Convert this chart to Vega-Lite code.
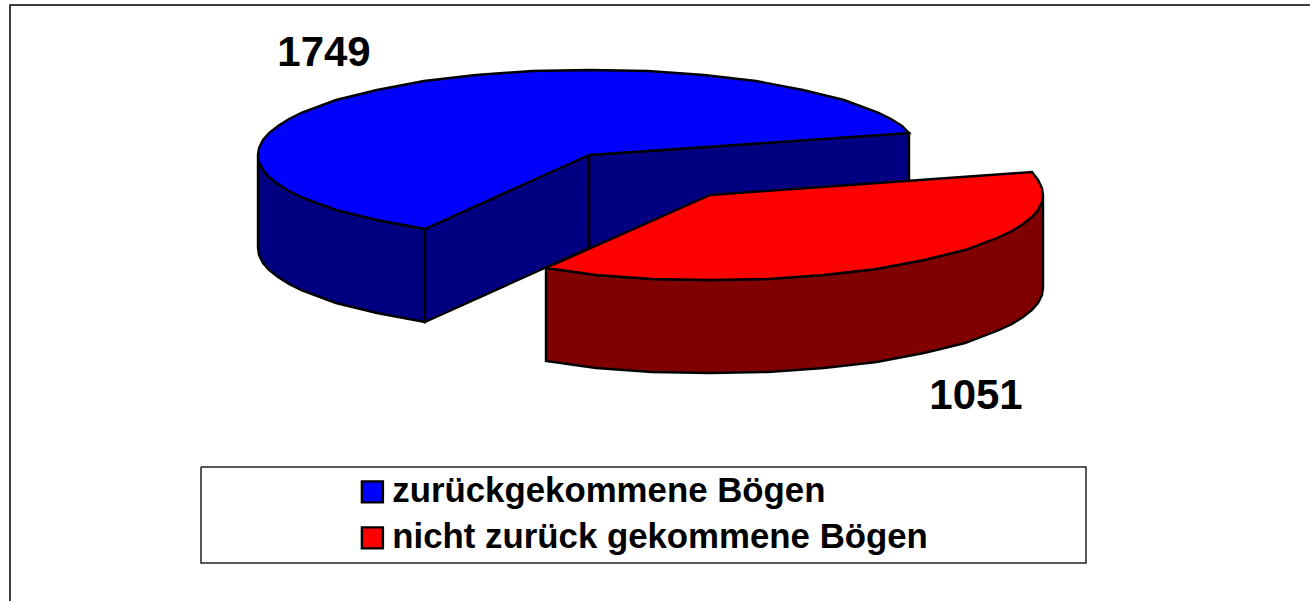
{"$schema":"https://vega.github.io/schema/vega-lite/v6.json","width":1310,"height":601,"padding":0,"autosize":{"type":"none"},"background":"white","view":{"stroke":null},
"datasets":{
"werte":[{"Kategorie":"zurückgekommene Bögen","Wert":1749,"x":324,"y":65.5},{"Kategorie":"nicht zurück gekommene Bögen","Wert":1051,"x":976,"y":408.5}],
"umriss":[
{"teil":"rahmen","n":1,"x":10,"y":601},{"teil":"rahmen","n":2,"x":10,"y":5},{"teil":"rahmen","n":3,"x":1310,"y":5},
{"teil":"legende","n":1,"x":201,"y":467},{"teil":"legende","n":2,"x":1086,"y":467},{"teil":"legende","n":3,"x":1086,"y":563},{"teil":"legende","n":4,"x":201,"y":563},{"teil":"legende","n":5,"x":201,"y":467},
{"teil":"blau_seite","n":1,"x":258,"y":155},{"teil":"blau_seite","n":1.5,"x":259,"y":162},{"teil":"blau_seite","n":2,"x":263,"y":170},{"teil":"blau_seite","n":2.5,"x":269,"y":177},{"teil":"blau_seite","n":3,"x":278,"y":184},{"teil":"blau_seite","n":3.5,"x":289,"y":191},{"teil":"blau_seite","n":4,"x":302,"y":197.5},{"teil":"blau_seite","n":5,"x":336,"y":210},{"teil":"blau_seite","n":6,"x":377,"y":220},{"teil":"blau_seite","n":7,"x":425,"y":229},{"teil":"blau_seite","n":8,"x":425,"y":322},{"teil":"blau_seite","n":9,"x":377,"y":313},{"teil":"blau_seite","n":10,"x":336,"y":303},{"teil":"blau_seite","n":11,"x":302,"y":290.5},{"teil":"blau_seite","n":11.5,"x":289,"y":284},{"teil":"blau_seite","n":12,"x":278,"y":277},{"teil":"blau_seite","n":12.5,"x":269,"y":270},{"teil":"blau_seite","n":13,"x":263,"y":263},{"teil":"blau_seite","n":13.5,"x":259,"y":255},{"teil":"blau_seite","n":14,"x":258,"y":248},{"teil":"blau_seite","n":15,"x":258,"y":155},
{"teil":"blau_rechts","n":1,"x":589,"y":155},{"teil":"blau_rechts","n":2,"x":909,"y":133},{"teil":"blau_rechts","n":3,"x":909,"y":226},{"teil":"blau_rechts","n":4,"x":589,"y":248},{"teil":"blau_rechts","n":5,"x":589,"y":155},
{"teil":"blau_links","n":1,"x":425,"y":229},{"teil":"blau_links","n":2,"x":589,"y":155},{"teil":"blau_links","n":3,"x":589,"y":248},{"teil":"blau_links","n":4,"x":425,"y":322},{"teil":"blau_links","n":5,"x":425,"y":229},
{"teil":"blau_oben","n":1,"x":589,"y":155},{"teil":"blau_oben","n":2,"x":909,"y":133},{"teil":"blau_oben","n":3,"x":902,"y":126},{"teil":"blau_oben","n":4,"x":891,"y":119},{"teil":"blau_oben","n":5,"x":878,"y":112.5},{"teil":"blau_oben","n":6,"x":844,"y":100},{"teil":"blau_oben","n":7,"x":803,"y":90},{"teil":"blau_oben","n":8,"x":756,"y":81},{"teil":"blau_oben","n":9,"x":704,"y":75},{"teil":"blau_oben","n":10,"x":648,"y":71},{"teil":"blau_oben","n":11,"x":590,"y":70},{"teil":"blau_oben","n":12,"x":532,"y":71},{"teil":"blau_oben","n":13,"x":476,"y":75},{"teil":"blau_oben","n":14,"x":424,"y":81},{"teil":"blau_oben","n":15,"x":377,"y":90},{"teil":"blau_oben","n":16,"x":336,"y":100},{"teil":"blau_oben","n":17,"x":302,"y":112.5},{"teil":"blau_oben","n":17.5,"x":289,"y":119},{"teil":"blau_oben","n":18,"x":278,"y":126},{"teil":"blau_oben","n":18.5,"x":269,"y":133},{"teil":"blau_oben","n":19,"x":263,"y":140},{"teil":"blau_oben","n":19.5,"x":259,"y":148},{"teil":"blau_oben","n":20,"x":258,"y":155},{"teil":"blau_oben","n":20.5,"x":259,"y":162},{"teil":"blau_oben","n":21,"x":263,"y":170},{"teil":"blau_oben","n":21.5,"x":269,"y":177},{"teil":"blau_oben","n":22,"x":278,"y":184},{"teil":"blau_oben","n":22.5,"x":289,"y":191},{"teil":"blau_oben","n":23,"x":302,"y":197.5},{"teil":"blau_oben","n":24,"x":336,"y":210},{"teil":"blau_oben","n":25,"x":377,"y":220},{"teil":"blau_oben","n":26,"x":425,"y":229},{"teil":"blau_oben","n":27,"x":589,"y":155},
{"teil":"rot_seite","n":1,"x":1043,"y":195},{"teil":"rot_seite","n":2,"x":1042,"y":202},{"teil":"rot_seite","n":3,"x":1038,"y":210},{"teil":"rot_seite","n":3.5,"x":1032,"y":217},{"teil":"rot_seite","n":4,"x":1023,"y":224},{"teil":"rot_seite","n":4.5,"x":1012,"y":231},{"teil":"rot_seite","n":5,"x":998,"y":237.5},{"teil":"rot_seite","n":6,"x":965,"y":250},{"teil":"rot_seite","n":7,"x":924,"y":260},{"teil":"rot_seite","n":8,"x":876.5,"y":269},{"teil":"rot_seite","n":9,"x":824,"y":275},{"teil":"rot_seite","n":10,"x":768,"y":279},{"teil":"rot_seite","n":11,"x":710,"y":280},{"teil":"rot_seite","n":12,"x":652,"y":279},{"teil":"rot_seite","n":13,"x":596,"y":275},{"teil":"rot_seite","n":14,"x":546,"y":268},{"teil":"rot_seite","n":15,"x":546,"y":361},{"teil":"rot_seite","n":16,"x":596,"y":368},{"teil":"rot_seite","n":17,"x":652,"y":372},{"teil":"rot_seite","n":18,"x":710,"y":373},{"teil":"rot_seite","n":19,"x":768,"y":372},{"teil":"rot_seite","n":20,"x":824,"y":368},{"teil":"rot_seite","n":21,"x":876.5,"y":362},{"teil":"rot_seite","n":22,"x":924,"y":353},{"teil":"rot_seite","n":23,"x":965,"y":343},{"teil":"rot_seite","n":24,"x":998,"y":330.5},{"teil":"rot_seite","n":24.5,"x":1012,"y":324},{"teil":"rot_seite","n":25,"x":1023,"y":317},{"teil":"rot_seite","n":25.5,"x":1032,"y":310},{"teil":"rot_seite","n":26,"x":1038,"y":303},{"teil":"rot_seite","n":27,"x":1042,"y":295},{"teil":"rot_seite","n":28,"x":1043,"y":288},{"teil":"rot_seite","n":29,"x":1043,"y":195},
{"teil":"rot_oben","n":1,"x":710,"y":195},{"teil":"rot_oben","n":2,"x":1032,"y":172},{"teil":"rot_oben","n":3,"x":1038,"y":180},{"teil":"rot_oben","n":4,"x":1042,"y":188},{"teil":"rot_oben","n":5,"x":1043,"y":195},{"teil":"rot_oben","n":6,"x":1042,"y":202},{"teil":"rot_oben","n":7,"x":1038,"y":210},{"teil":"rot_oben","n":7.5,"x":1032,"y":217},{"teil":"rot_oben","n":8,"x":1023,"y":224},{"teil":"rot_oben","n":8.5,"x":1012,"y":231},{"teil":"rot_oben","n":9,"x":998,"y":237.5},{"teil":"rot_oben","n":10,"x":965,"y":250},{"teil":"rot_oben","n":11,"x":924,"y":260},{"teil":"rot_oben","n":12,"x":876.5,"y":269},{"teil":"rot_oben","n":13,"x":824,"y":275},{"teil":"rot_oben","n":14,"x":768,"y":279},{"teil":"rot_oben","n":15,"x":710,"y":280},{"teil":"rot_oben","n":16,"x":652,"y":279},{"teil":"rot_oben","n":17,"x":596,"y":275},{"teil":"rot_oben","n":18,"x":546,"y":268},{"teil":"rot_oben","n":19,"x":710,"y":195}
]},
"data":{"name":"umriss"},
"encoding":{
"x":{"field":"x","type":"quantitative","axis":null,"scale":{"domain":[0,1310],"nice":false,"zero":false}},
"y":{"field":"y","type":"quantitative","axis":null,"scale":{"domain":[601,0],"nice":false,"zero":false}},
"order":{"field":"n","type":"quantitative"}},
"layer":[
{"transform":[{"filter":"datum.teil==='rahmen'"}],"mark":{"type":"line","stroke":"#000000","strokeWidth":1.5}},
{"transform":[{"filter":"datum.teil==='legende'"}],"mark":{"type":"line","stroke":"#222222","strokeWidth":1.5,"fill":"#ffffff"}},
{"transform":[{"filter":"datum.teil==='blau_seite'"}],"mark":{"type":"line","stroke":"#000000","strokeWidth":2.4,"fill":"#000080"}},
{"transform":[{"filter":"datum.teil==='blau_rechts'"}],"mark":{"type":"line","stroke":"#000000","strokeWidth":2.4,"fill":"#000080"}},
{"transform":[{"filter":"datum.teil==='blau_links'"}],"mark":{"type":"line","stroke":"#000000","strokeWidth":2.4,"fill":"#000080"}},
{"transform":[{"filter":"datum.teil==='blau_oben'"}],"mark":{"type":"line","stroke":"#000000","strokeWidth":2.4,"fill":"#0000ff"}},
{"transform":[{"filter":"datum.teil==='rot_seite'"}],"mark":{"type":"line","stroke":"#000000","strokeWidth":2.4,"fill":"#800000"}},
{"transform":[{"filter":"datum.teil==='rot_oben'"}],"mark":{"type":"line","stroke":"#000000","strokeWidth":2.4,"fill":"#ff0000"}},
{"data":{"name":"werte"},"mark":{"type":"text","font":"Liberation Sans","fontWeight":"bold","fontSize":42,"align":"center","baseline":"alphabetic","color":"#000000"},"encoding":{"text":{"field":"Wert","type":"quantitative","format":"d"},"order":{"value":null}}},
{"data":{"name":"werte"},"mark":{"type":"point","shape":"square","filled":true,"size":0,"strokeOpacity":0},"encoding":{"order":{"value":null},"fill":{"field":"Kategorie","type":"nominal","scale":{"domain":["zurückgekommene Bögen","nicht zurück gekommene Bögen"],"range":["#0000ff","#ff0000"]},"legend":{"orient":"none","legendX":355,"legendY":474.5,"title":null,"symbolType":"square","symbolSize":441,"symbolStrokeColor":"#000000","symbolStrokeWidth":2.4,"symbolOpacity":1,"labelFont":"Liberation Sans","labelFontWeight":"bold","labelFontSize":34.8,"labelColor":"#000000","labelLimit":700,"labelOffset":2.5,"rowPadding":10,"padding":0}}}}
]}
